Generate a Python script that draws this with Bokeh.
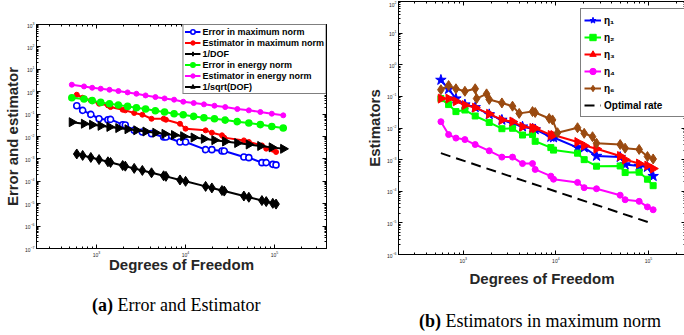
import math
from bokeh.plotting import figure
from bokeh.layouts import row, column
from bokeh.models import (Range1d, FixedTicker, LogTickFormatter, LogAxis, Legend,
                          LegendItem, Div, CustomJSTickFormatter)
from bokeh.embed import file_html
from bokeh.resources import INLINE

# ---------------- Panel (a) data ----------------
dof_energy = [529, 725, 896, 1117, 1403, 1765, 2239, 2813, 3566, 4600, 5830, 7460, 9460,
              12400, 16150, 21200, 28000, 38300, 51600, 69500, 93500, 125700]
est_energy = [2.05, 1.72, 1.50, 1.36, 1.22, 1.07, 0.93, 0.81, 0.68, 0.575, 0.50, 0.44, 0.357,
              0.311, 0.272, 0.237, 0.206, 0.168, 0.147, 0.124, 0.104, 0.088]
err_energy = [0.538, 0.47, 0.40, 0.333, 0.291, 0.254, 0.221, 0.193, 0.168, 0.142, 0.124, 0.104,
              0.094, 0.079, 0.069, 0.062, 0.054, 0.046, 0.040, 0.034, 0.028, 0.024]
inv_sqrt_dof = [0.0435, 0.0371, 0.0334, 0.0299, 0.0267, 0.0238, 0.0211, 0.0189, 0.0167, 0.0147,
                0.0131, 0.0116, 0.0103, 0.00898, 0.00787, 0.00687, 0.00598, 0.00511, 0.00440,
                0.00379, 0.00327, 0.00282]
dof_max = [601, 700, 865, 1070, 1346, 1440, 1972, 2110, 2656, 3280, 4160, 5690, 6040, 8690,
           10040, 16860, 19820, 25750, 27310, 45400, 51600, 72400, 80900, 95900, 104300]
err_max = [0.237, 0.147, 0.097, 0.062, 0.056, 0.058, 0.0337, 0.0326, 0.0188, 0.0159, 0.0134,
           0.0095, 0.0095, 0.0057, 0.0057, 0.00259, 0.00259, 0.00226, 0.00226, 0.00122,
           0.00114, 0.00068, 0.00068, 0.00057, 0.00054]
est_max = [0.733, 0.538, 0.409, 0.291, 0.245, 0.206, 0.157, 0.147, 0.112, 0.094, 0.062, 0.062,
           0.056, 0.037, 0.0223, 0.0188, 0.0148, 0.0113, 0.0089, 0.0067, 0.0057, 0.0040,
           0.00287, 0.00259, 0.00204]
inv_dof = [1.66e-3, 1.43e-3, 1.16e-3, 9.35e-4, 7.43e-4, 6.94e-4, 5.07e-4, 4.74e-4, 3.77e-4,
           3.05e-4, 2.40e-4, 1.76e-4, 1.66e-4, 1.15e-4, 9.96e-5, 5.93e-5, 5.05e-5, 3.88e-5,
           3.66e-5, 2.20e-5, 1.94e-5, 1.38e-5, 1.24e-5, 1.04e-5, 9.6e-6]
labels_a = ["Error in maximum norm", "Estimator in maximum norm", "1/DOF",
            "Error in energy norm", "Estimator in energy norm", "1/sqrt(DOF)"]

# ---------------- Panel (b) data ----------------
dof_b = [574, 695, 834, 1042, 1346, 1908, 2614, 3405, 4365, 5597, 5979, 8830, 9436, 17140,
         20220, 27480, 49460, 55960, 79300, 97500, 112300]
eta1 = [0.33, 0.17, 0.085, 0.055, 0.045, 0.027, 0.018, 0.014, 0.011, 0.0095, 0.009, 0.0052,
        0.0050, 0.0024, 0.0024, 0.0013, 0.0012, 0.0007, 0.00063, 0.00058, 0.0003]
eta2 = [0.085, 0.055, 0.033, 0.037, 0.024, 0.015, 0.0095, 0.0098, 0.006, 0.0062, 0.0038,
        0.0024, 0.002, 0.0016, 0.001, 0.00062, 0.00063, 0.00039, 0.0004, 0.00024, 0.00015]
eta3 = [0.085, 0.085, 0.07, 0.053, 0.044, 0.028, 0.018, 0.016, 0.011, 0.01, 0.0098, 0.006,
        0.006, 0.0036, 0.0028, 0.0022, 0.0013, 0.001, 0.00075, 0.00065, 0.00052]
eta4 = [0.0158, 0.0062, 0.0048, 0.0043, 0.003, 0.0019, 0.0012, 0.0012, 0.00075, 0.00075,
        0.00049, 0.0003, 0.00024, 0.00019, 0.00013, 0.00012, 0.000075, 0.000054, 0.000048,
        0.000032, 0.000026]
dof_eta6 = [574, 695, 834, 1042, 1346, 1393, 1787, 1908, 2614, 3405, 4018, 5597, 5979, 8470,
            9206, 10430, 17140, 20220, 24880, 27480, 49460, 55960, 79300, 97500, 112300]
eta6 = [0.162, 0.22, 0.174, 0.145, 0.174, 0.085, 0.12, 0.08, 0.062, 0.049, 0.029, 0.033, 0.031,
        0.02, 0.018, 0.0071, 0.0102, 0.0068, 0.0053, 0.0033, 0.0030, 0.0023, 0.0021, 0.00125,
        0.00105]
opt_dof = [574, 112300]
opt_rate = [1.6e-3, 9.3e-6]
labels_b = ["η₁", "η₂", "η₃", "η₄", "η₆", "Optimal rate"]

FONT = "Liberation Sans"
AXC = "#262626"


def style_axes(p, yexp):
    xt = FixedTicker(ticks=[10.0 ** k for k in range(2, 7)],
                     minor_ticks=[m * 10.0 ** k for k in range(1, 7) for m in range(2, 10)])
    yt = FixedTicker(ticks=[10.0 ** k for k in range(yexp[0], yexp[1] + 1)],
                     minor_ticks=[m * 10.0 ** k for k in range(yexp[0] - 1, yexp[1] + 1)
                                  for m in range(2, 10)])
    xb = p.below[0]
    yl = p.left[0]
    xb.ticker = xt
    yl.ticker = yt
    for ax in (xb, yl):
        ax.formatter = LogTickFormatter()
        ax.major_label_text_font = FONT
        ax.major_label_text_font_size = "5px"
        ax.major_label_text_color = AXC
        ax.major_tick_in = 4
        ax.major_tick_out = 0
        ax.minor_tick_in = 2
        ax.minor_tick_out = 0
        ax.major_label_standoff = 2
        ax.axis_line_color = "black"
        ax.major_tick_line_color = "black"
        ax.minor_tick_line_color = "black"
        ax.axis_label_text_font = FONT
        ax.axis_label_text_font_style = "bold"
        ax.axis_label_text_font_size = "15px"
        ax.axis_label_text_color = AXC
    for loc, tk in (("above", xt), ("right", yt)):
        ax = LogAxis(ticker=tk, formatter=CustomJSTickFormatter(code="return ''"),
                     major_label_text_font_size="0px", major_label_standoff=0,
                     major_tick_in=4, major_tick_out=0, minor_tick_in=2, minor_tick_out=0,
                     axis_line_color="black")
        p.add_layout(ax, loc)
    p.grid.visible = False
    p.outline_line_color = "black"
    p.background_fill_color = "white"
    p.border_fill_color = "white"
    return xb, yl


# ---------------- Figure (a) ----------------
pa = figure(width=336, height=285, x_axis_type="log", y_axis_type="log",
            x_range=Range1d(212, 3.85e5), y_range=Range1d(1e-7, 1e3),
            output_backend="svg", toolbar_location=None,
            min_border_left=31, min_border_right=10, min_border_top=24, min_border_bottom=37)
xa, ya = style_axes(pa, (-7, 3))
xa.axis_label = "Degrees of Freedom"
ya.axis_label = "Error and estimator"
xa.axis_label_standoff = -4
ya.axis_label_standoff = 1

items_a = []
lw = 2
l1 = pa.line(dof_max, err_max, line_color="blue", line_width=lw)
s1 = pa.scatter(dof_max, err_max, marker="circle", size=6, line_color="blue", line_width=1.6,
                fill_color="white")
items_a.append(LegendItem(label=labels_a[0], renderers=[l1, s1]))
l2 = pa.line(dof_max, est_max, line_color="red", line_width=lw)
s2 = pa.scatter(dof_max, est_max, marker="circle", size=5, line_color="red", fill_color="red")
items_a.append(LegendItem(label=labels_a[1], renderers=[l2, s2]))
l3 = pa.line(dof_max, inv_dof, line_color="black", line_width=lw)
s3 = pa.scatter(dof_max, inv_dof, marker="diamond", size=10, line_color="black",
                fill_color="black")
items_a.append(LegendItem(label=labels_a[2], renderers=[l3, s3]))
l4 = pa.line(dof_energy, err_energy, line_color="#00ff00", line_width=lw)
s4 = pa.scatter(dof_energy, err_energy, marker="circle", size=6, line_color="#00ff00",
                line_width=1.6, fill_color="#00ff00")
items_a.append(LegendItem(label=labels_a[3], renderers=[l4, s4]))
l5 = pa.line(dof_energy, est_energy, line_color="magenta", line_width=lw)
s5 = pa.scatter(dof_energy, est_energy, marker="circle", size=5, line_color="magenta",
                fill_color="magenta")
items_a.append(LegendItem(label=labels_a[4], renderers=[l5, s5]))
l6 = pa.line(dof_energy, inv_sqrt_dof, line_color="black", line_width=lw)
s6 = pa.scatter(dof_energy, inv_sqrt_dof, marker="triangle", size=9, angle=-math.pi / 2,
                line_color="black", fill_color="black")
items_a.append(LegendItem(label=labels_a[5], renderers=[l6, s6]))

leg_a = Legend(items=items_a, location="top_right", margin=0, padding=1, spacing=0,
               label_height=11, glyph_height=11, glyph_width=16, label_standoff=2,
               label_text_font=FONT, label_text_font_style="bold", label_text_font_size="9px",
               label_text_color="black", border_line_color="black", border_line_width=1,
               background_fill_color="white", background_fill_alpha=1)
pa.add_layout(leg_a)

cap_style = {"font-family": "Liberation Serif", "font-size": "18px", "color": "black",
             "white-space": "nowrap"}
div_a = Div(text="<b>(a)</b> Error and Estimator", width=336, height=34,
            styles=dict(cap_style, **{"padding-left": "87px", "line-height": "30px"}))

# ---------------- Figure (b) ----------------
pb = figure(width=340, height=300, x_axis_type="log", y_axis_type="log",
            x_range=Range1d(200, 2.51e5), y_range=Range1d(1e-6, 1e2),
            output_backend="svg", toolbar_location=None,
            min_border_left=52, min_border_right=1, min_border_top=1, min_border_bottom=46)
xb, yb = style_axes(pb, (-6, 2))
xb.axis_label = "Degrees of Freedom"
yb.axis_label = "Estimators"
xb.axis_label_standoff = 4
yb.axis_label_standoff = 1

items_b = []
brown = "#9a4a10"
series_b = [
    (dof_b, eta1, "blue", "star", 11, "blue"),
    (dof_b, eta2, "#00ff00", "square", 6, "#00ff00"),
    (dof_b, eta3, "red", "triangle", 9, "red"),
    (dof_b, eta4, "magenta", "circle", 6, "magenta"),
    (dof_eta6, eta6, brown, "diamond", 10, brown),
]
for i, (xs, ys, col, mk, sz, fc) in enumerate(series_b):
    ln = pb.line(xs, ys, line_color=col, line_width=2)
    kw = {"angle": -math.pi / 2} if mk == "triangle" else {}
    sc = pb.scatter(xs, ys, marker=mk, size=sz, line_color=col, fill_color=fc, **kw)
    items_b.append(LegendItem(label=labels_b[i], renderers=[ln, sc]))
lo = pb.line(opt_dof, opt_rate, line_color="black", line_width=2, line_dash="10 6")
items_b.append(LegendItem(label=labels_b[5], renderers=[lo]))

leg_b = Legend(items=items_b, location="top_left", margin=0, padding=3, spacing=1,
               label_height=16, glyph_height=16, glyph_width=17, label_standoff=3,
               label_width=95,
               label_text_font=FONT, label_text_font_style="bold", label_text_font_size="10px",
               label_text_color="black", border_line_color="black", border_line_width=1,
               background_fill_color="white", background_fill_alpha=1)
leg_b.location = (182, 137)
pb.add_layout(leg_b)

div_b = Div(text="<span style='position:relative; top:7px'><b>(b)</b> "
                 "Estimators in maximum norm</span>", width=340, height=19,
            styles=dict(cap_style, **{"padding-left": "68px", "line-height": "19px"}))

layout = row(column(pa, div_a, spacing=0), column(pb, div_b, spacing=0), spacing=0)
open("out.html", "w").write(file_html(layout, INLINE))
